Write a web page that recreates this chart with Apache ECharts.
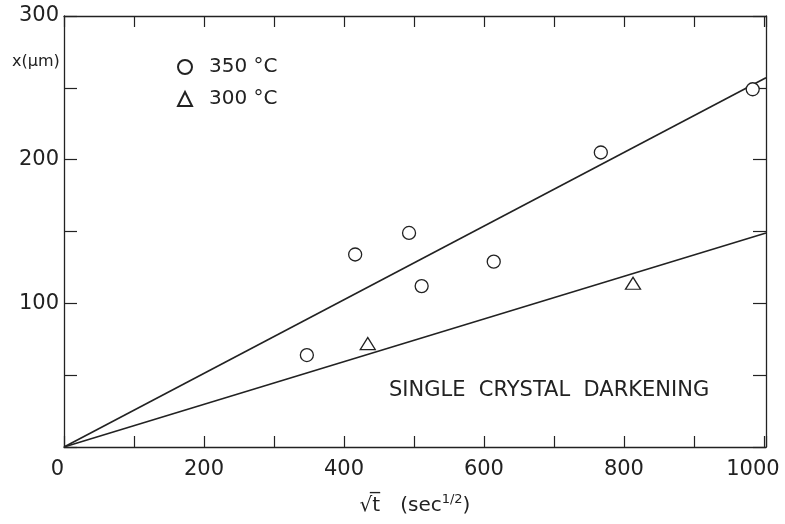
<!DOCTYPE html>
<html>
<head>
<meta charset="utf-8">
<script src="https://cdn.jsdelivr.net/npm/echarts@6/dist/echarts.min.js"></script>
<style>
  html, body { margin: 0; padding: 0; background: #fff; }
  #chart { width: 785px; height: 524px; }
</style>
</head>
<body>
<div id="chart"></div>
<script>
const sqrtT350 = [347, 416, 493, 511, 614, 767, 984];
const depth350 = [64, 134, 149, 112, 129, 205, 249];
const sqrtT300 = [434, 813];
const depth300 = [72, 114];

// the two fitted lines through the origin
const fitX = [0, 1003];
const fit350 = [0, 257];
const fit300 = [0, 149];

const xTickLabels = [0, 200, 400, 600, 800, 1000];
const yTickLabels = [100, 200, 300];

const ink = '#222';
const font = 'DejaVu Sans';

const pairs = (xs, ys) => xs.map((x, i) => [x, ys[i]]);

const chart = echarts.init(document.getElementById('chart'));

const baseX = {
    type: 'value',
    min: 0,
    max: 1003,
    interval: 100,
    axisLine: { show: true, onZero: false, lineStyle: { color: ink, width: 1.3 } },
    axisTick: { show: true, inside: true, length: 11, lineStyle: { color: ink, width: 1.2 } },
    splitLine: { show: false }
};
const baseY = {
    type: 'value',
    min: 0,
    max: 300,
    interval: 50,
    axisLine: { show: true, onZero: false, lineStyle: { color: ink, width: 1.3 } },
    axisTick: { show: true, inside: true, length: 13, lineStyle: { color: ink, width: 1.2 } },
    splitLine: { show: false }
};

const option = {
    backgroundColor: '#fff',
    animation: false,
    grid: { left: 64, right: 19, top: 16, bottom: 77, containLabel: false, outerBoundsMode: 'none' },
    legend: {
        orient: 'vertical',
        left: 172,
        top: 52,
        itemWidth: 14,
        itemHeight: 14,
        itemGap: 12,
        data: ['350 °C', '300 °C'],
        textStyle: { fontFamily: font, fontSize: 20, color: ink, padding: [0, 0, 0, 12] }
    },
    xAxis: [
        Object.assign({}, baseX, {
            position: 'bottom',
            axisLabel: {
                show: true,
                color: ink,
                fontFamily: font,
                fontSize: 21,
                margin: 12,
                alignMinLabel: 'right',
                formatter: v => {
                    if (!xTickLabels.includes(v)) return '';
                    // last label sits a little left of its tick, as in the print
                    return v === 1000 ? '{end|' + v + '}' : String(v);
                },
                rich: {
                    end: { fontFamily: font, fontSize: 21, color: ink, padding: [0, 22, 0, 0] }
                }
            },
            name: '{a|√t̅}      {a|(sec}{s|1/2}{a|)}',
            nameLocation: 'middle',
            nameGap: 46,
            nameTextStyle: {
                rich: {
                    a: { fontFamily: font, fontSize: 20, color: ink },
                    s: { fontFamily: font, fontSize: 13, color: ink, verticalAlign: 'top', padding: [0, 0, 12, 0] }
                }
            }
        }),
        Object.assign({}, baseX, { position: 'top', axisLabel: { show: false } })
    ],
    yAxis: [
        Object.assign({}, baseY, {
            position: 'left',
            axisLabel: {
                show: true,
                color: ink,
                fontFamily: font,
                fontSize: 21,
                margin: 5,
                formatter: v => yTickLabels.includes(v) ? String(v) : ''
            }
        }),
        Object.assign({}, baseY, { position: 'right', axisLabel: { show: false } })
    ],
    graphic: [
        {
            type: 'text',
            left: 12,
            top: 54,
            style: { text: 'x(μm)', font: '16px "DejaVu Sans"', fill: ink }
        },
        {
            type: 'text',
            left: 389,
            top: 380,
            style: { text: 'SINGLE  CRYSTAL  DARKENING', font: '21px "DejaVu Sans"', fill: ink }
        }
    ],
    series: [
        {
            name: 'fit 350',
            type: 'line',
            data: pairs(fitX, fit350),
            symbol: 'none',
            lineStyle: { color: ink, width: 1.6 },
            silent: true
        },
        {
            name: 'fit 300',
            type: 'line',
            data: pairs(fitX, fit300),
            symbol: 'none',
            lineStyle: { color: ink, width: 1.6 },
            silent: true
        },
        {
            name: '350 °C',
            type: 'scatter',
            data: pairs(sqrtT350, depth350),
            symbol: 'circle',
            symbolSize: 13,
            itemStyle: { color: '#fff', borderColor: ink, borderWidth: 1.3, opacity: 1 },
            z: 5
        },
        {
            name: '300 °C',
            type: 'scatter',
            data: pairs(sqrtT300, depth300),
            symbol: 'triangle',
            symbolSize: [15, 12],
            itemStyle: { color: '#fff', borderColor: ink, borderWidth: 1.3, opacity: 1 },
            z: 5
        }
    ]
};

chart.setOption(option);
</script>
</body>
</html>
